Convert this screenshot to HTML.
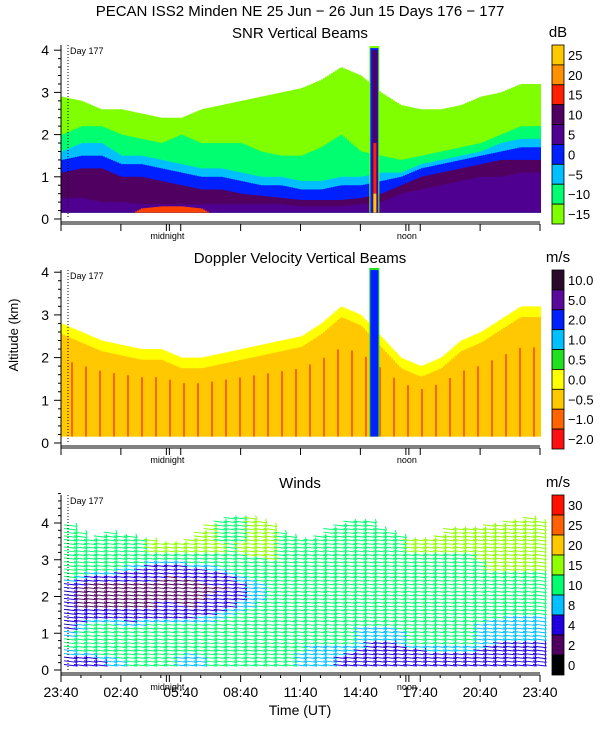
<!DOCTYPE html>
<html><head><meta charset="utf-8"><style>
body{margin:0;background:#fff;width:600px;height:750px;overflow:hidden}
svg text{font-family:"Liberation Sans",sans-serif;fill:#000}
</style></head><body>
<svg id="c" width="600" height="750" viewBox="0 0 600 750"></svg>
<script>
const hours=[0,1,2,3,4,5,6,7,8,9,10,11,12,13,14,15,16,17,18,19,20,21,22,23,24];
const timeLabels=["23:40","02:40","05:40","08:40","11:40","14:40","17:40","20:40","23:40"];
// SNR layer tops (km)
const snrRedTop=[0,0,0,0,0.25,0.3,0.3,0.25,0,0,0,0,0,0,0,0,0,0,0,0,0,0,0,0,0];
const snrVioletTop=[0.5,0.5,0.4,0.4,0.35,0.35,0.35,0.35,0.35,0.35,0.35,0.35,0.3,0.3,0.3,0.35,0.4,0.6,0.7,0.8,0.9,1.0,1.0,1.1,1.1];
const snrDarkTop=[1.1,1.2,1.2,1.0,1.0,0.9,0.8,0.7,0.7,0.6,0.55,0.5,0.45,0.45,0.45,0.5,0.6,0.8,1.0,1.1,1.2,1.3,1.4,1.4,1.4];
const snrBlueTop=[1.4,1.5,1.5,1.3,1.3,1.2,1.1,1.0,1.0,0.9,0.8,0.8,0.7,0.7,0.8,0.8,0.9,1.0,1.2,1.3,1.4,1.5,1.6,1.7,1.7];
const snrCyanTop=[1.6,1.8,1.8,1.5,1.5,1.4,1.3,1.2,1.2,1.1,1.0,1.0,0.9,0.9,1.0,1.0,1.1,1.1,1.3,1.4,1.5,1.6,1.8,1.9,1.9];
const snrGreenTop=[2.0,2.2,2.2,2.0,1.9,1.8,2.0,1.8,1.8,1.8,1.6,1.5,1.5,1.7,2.0,1.6,1.5,1.4,1.5,1.6,1.7,1.8,2.0,2.2,2.2];
const snrEchoTop=[2.9,2.8,2.6,2.6,2.5,2.4,2.4,2.6,2.7,2.8,2.9,3.0,3.1,3.3,3.6,3.4,3.0,2.7,2.6,2.6,2.7,2.9,3.0,3.2,3.2];
const spikeHour=15.65;
// Doppler
const dopEchoTop=[2.8,2.6,2.4,2.3,2.2,2.2,2.0,2.0,2.1,2.2,2.3,2.4,2.5,2.8,3.2,3.0,2.5,2.0,1.8,2.0,2.4,2.6,2.9,3.2,3.2];
// Winds: speed (m/s) per level
const windLevels=[0.25,0.75,1.25,1.75,2.25,2.75,3.25,3.75];
const wind025=[6,6,8,10,10,10,8,10,10,10,10,10,8,8,6,4,4,4,6,6,6,6,4,4,4];
const wind075=[12,14,15,14,12,12,12,12,14,14,12,12,10,10,10,8,8,10,10,10,10,8,8,8,8];
const wind125=[6,10,10,9,10,10,10,11,12,12,11,11,11,10,10,10,10,11,11,11,10,9,9,9,9];
const wind175=[4,3,3,3,4,5,4,6,8,10,11,11,12,12,12,12,12,12,12,12,12,12,11,11,11];
const wind225=[5,2,2,2,3,2,2,3,4,8,10,11,12,12,12,12,12,12,12,12,13,13,13,13,13];
const wind275=[14,10,10,8,6,5,6,8,10,12,14,13,13,12,12,13,14,13,13,14,14,15,15,15,15];
const wind325=[15,14,14,14,15,15,16,16,15,16,16,14,14,14,14,15,15,15,15,15,15,16,16,16,16];
const wind375=[13,12,14,14,15,15,15,15,14,15,15,14,13,14,14,14,14,15,15,16,16,16,16,16,16];
const windTop=[4.0,3.6,3.8,3.7,3.6,3.5,3.6,4.0,4.2,4.2,4.0,3.7,3.6,3.9,4.1,4.1,3.8,3.6,3.6,3.9,3.9,4.0,4.1,4.2,4.0];
const snrBar=["25","20","15","10","5","0","\u22125","\u221210","\u221215"];
const dopBar=["10.0","5.0","2.0","1.0","0.5","0.0","\u22120.5","\u22121.0","\u22122.0"];
const windBar=["30","25","20","15","10","8","4","2","0"];

const S=document.getElementById('c');const NS='http://www.w3.org/2000/svg';
function mk(t,a,p){const e=document.createElementNS(NS,t);for(const k in a)e.setAttribute(k,a[k]);(p||S).appendChild(e);return e;}
function txt(x,y,s,sz,anchor,name){const e=mk('text',{x:x,y:y,'font-size':sz,'text-anchor':anchor||'start'});e.textContent=s;

return e;}
const X0=61,X1=540;
function xs(h){return X0+h*(X1-X0)/24;}
function interp(arr,h){const i=Math.min(23,Math.floor(h));const f=h-i;return arr[i]*(1-f)+arr[i+1]*f;}
const panels=[{y0:219,k:42.2,top:45},{y0:443,k:42.7,top:270},{y0:670,k:36.75,top:495}];

const g1=mk('g',{});


function band(g,P,x,w,lo,hi,col){if(hi<=lo)return;const r=mk('rect',{x:x,y:P.y0-hi*P.k,width:w,height:(hi-lo)*P.k,fill:col},g);

}
const P1=panels[0];
for(let x=X0;x<X1;x+=2){const h=(x-X0)/(X1-X0)*24;const b=0.15;
 band(g1,P1,x,2,b,interp(snrEchoTop,h),'#80ff00');
 band(g1,P1,x,2,b,interp(snrGreenTop,h),'#00ff70');
 band(g1,P1,x,2,b,interp(snrCyanTop,h),'#00c0ff');
 band(g1,P1,x,2,b,interp(snrBlueTop,h),'#0020ff');
 band(g1,P1,x,2,b,interp(snrDarkTop,h),'#500060');
 band(g1,P1,x,2,b,interp(snrVioletTop,h),'#500090');
 band(g1,P1,x,2,b,interp(snrRedTop,h),'#ff4000');
}
const sx=xs(spikeHour);
band(g1,P1,sx-4,10,0.15,4.1,'#80ff00');band(g1,P1,sx-3,8,0.15,4.05,'#0020ff');
band(g1,P1,sx-1,5,0.15,4.0,'#500060');band(g1,P1,sx,3,0.15,1.8,'#ff2000');band(g1,P1,sx,3,0.15,0.6,'#ffc800');

const P2=panels[1];const g2=mk('g',{});


for(let x=X0;x<X1;x+=2){const h=(x-X0)/(X1-X0)*24;const t=interp(dopEchoTop,h);
 band(g2,P2,x,2,0.15,t,'#ffff00');band(g2,P2,x,2,0.15,t-0.25,'#ffc800');
 if(Math.floor(x/2)%7==0)band(g2,P2,x,2,0.15,t*0.7,'#ff6400');
}
band(g2,P2,sx-4,10,0.15,4.1,'#20e020');band(g2,P2,sx-3,8,0.15,4.05,'#0020ff');

const P3=panels[2];const g3=mk('g',{});


const wl=[wind025,wind075,wind125,wind175,wind225,wind275,wind325,wind375];
function wcol(s){if(s<2)return'#000';if(s<4)return'#500060';if(s<8)return'#2000e0';if(s<10)return'#00c0ff';if(s<15)return'#00ff70';if(s<20)return'#90ff00';if(s<25)return'#ffc800';if(s<30)return'#ff6000';return'#ff1000';}
function wsp(h,a){if(a<=0.25)return interp(wl[0],h);if(a>=3.75)return interp(wl[7],h);const j=Math.floor((a-0.25)/0.5);const f=(a-windLevels[j])/0.5;return interp(wl[j],h)*(1-f)+interp(wl[j+1],h)*f;}
for(let h=0;h<=23.6;h+=0.5){const top=interp(windTop,h);for(let a=0.15;a<=top;a+=0.1){const s=wsp(h,a);const x=xs(h)+3,y=P3.y0-a*P3.k;const c=wcol(s);
 const l=mk('polyline',{points:(x)+','+(y)+' '+(x+13)+','+(y+1.5)+' '+(x+12)+','+(y-2),fill:'none',stroke:c,'stroke-width':1},g3);
 
 }}

panels.forEach((P,pi)=>{const g=mk('g',{});
 
 
 const yb=P.y0+3;
 mk('line',{x1:X0,y1:P.top,x2:X0,y2:yb+2,stroke:'#000'},g);
 mk('line',{x1:X0,y1:yb,x2:X1,y2:yb,stroke:'#000'},g);
 mk('line',{x1:X0,y1:yb+2,x2:X1,y2:yb+2,stroke:'#000'},g);
 const maxA=pi==2?4.8:4.1;
 for(let a=0;a<=maxA+0.001;a+=0.2){const y=P.y0-a*P.k;const maj=Math.abs(a-Math.round(a))<0.01;mk('line',{x1:X0-(maj?7:3),y1:y,x2:X0,y2:y,stroke:'#000'},g);
  if(maj)txt(X0-12,y+5,String(Math.round(a)),14,'end','y-tick-label');}
 for(let h=0;h<=24;h++){const x=xs(h);const maj=h%3==0;if(pi<2&&!maj)continue;mk('line',{x1:x,y1:yb+2,x2:x,y2:yb+(maj?9:5),stroke:'#000'},g);}
 [5.33,17.33].forEach(h=>{mk('line',{x1:xs(h)-1,y1:yb+2,x2:xs(h)-1,y2:yb+9,stroke:'#000'},g);mk('line',{x1:xs(h)+2,y1:yb+2,x2:xs(h)+2,y2:yb+9,stroke:'#000'},g);});
 txt(xs(5.33),yb+17,'midnight',9,'middle','midnight-label');txt(xs(17.33),yb+17,'noon',9,'middle','noon-label');
 mk('line',{x1:68,y1:P.top,x2:68,y2:P.y0,stroke:'#000','stroke-dasharray':'1,2'},g);
 txt(70,P.top+9,'Day 177',9,'start','day-label');
});
timeLabels.forEach((s,i)=>txt(xs(i*3),697,s,14,'middle','x-tick-label'));
txt(300,715,'Time (UT)',14,'middle','x-axis-title');
const yt=txt(0,0,'Altitude (km)',13,'middle','y-axis-title');yt.setAttribute('transform','translate(18,335) rotate(-90)');
txt(300,16,'PECAN ISS2 Minden NE  25 Jun \u2212 26 Jun 15 Days 176 \u2212 177',15,'middle','chart-title');
txt(300,38,'SNR Vertical Beams',15,'middle','snr-title');
txt(300,263,'Doppler Velocity Vertical Beams',15,'middle','doppler-title');
txt(300,488,'Winds',15,'middle','winds-title');
function cbar(cols,labels,top,bot,unit,name){const g=mk('g',{});
 
 
 const n=cols.length,hh=(bot-top)/n;cols.forEach((c,i)=>{const r=mk('rect',{x:552,y:top+i*hh,width:12,height:hh,fill:c,stroke:'#000','stroke-width':0.8},g);
 
 });
 labels.forEach((s,i)=>txt(568,top+(i+1)*hh+5-(n==labels.length?hh/2:0),s,13,'start','colorbar-label'));
 txt(558,top-8,unit,15,'middle','colorbar-unit');}
cbar(['#ffc800','#ff9000','#ff2000','#500060','#500090','#0020ff','#00c0ff','#00ff70','#80ff00'],snrBar,45,224,'dB','snr-colorbar');
cbar(['#2a0a2a','#5a0a9a','#0020ff','#00c0ff','#20e020','#ffff00','#ffc800','#ff6400','#ff1010'],dopBar,270,449,'m/s','doppler-colorbar');
cbar(['#ff1000','#ff6000','#ffc800','#90ff00','#00ff70','#00c0ff','#2000e0','#500060','#000000'],windBar,495,675,'m/s','wind-colorbar');
</script>
</body></html>
